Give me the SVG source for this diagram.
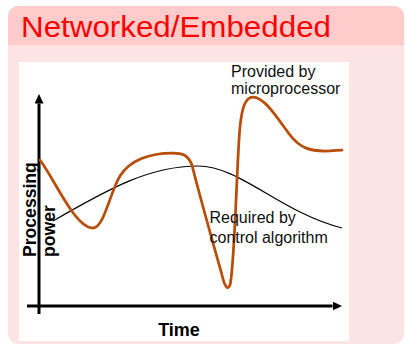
<svg xmlns="http://www.w3.org/2000/svg" width="406" height="346" viewBox="0 0 406 346">
  <style>
    .lbl { font-family: "Liberation Sans", Arial, sans-serif; font-size: 16px; fill: #111111; }
    .bold { font-family: "Liberation Sans", Arial, sans-serif; font-weight: bold; fill: #000000; }
    .axis { stroke: #000000; stroke-width: 3; fill: none; }
  </style>
  <defs>
    <marker id="arrow" markerUnits="userSpaceOnUse" markerWidth="10" markerHeight="9" refX="0" refY="4.5" orient="auto">
      <path d="M0,0 L9.5,4.5 L0,9 z" fill="#000000"/>
    </marker>
  </defs>

  <rect width="406" height="346" fill="#ffffff"/>

  <g id="panel">
    <rect x="8" y="6" width="396" height="338" rx="10" ry="10" fill="#fde4e4"/>
    <path d="M8,45 V16 A10,10 0 0 1 18,6 H394 A10,10 0 0 1 404,16 V45 Z" fill="#ffcbcb"/>
    <rect x="8" y="45" width="396" height="5" fill="#ffe2e2"/>
    <rect x="19" y="62" width="330" height="279" fill="#ffffff"/>
  </g>

  <g id="title">
    <text x="21" y="36.5" font-family="Liberation Sans, Arial, sans-serif" font-size="30" fill="#ff0000" textLength="310" lengthAdjust="spacingAndGlyphs">Networked/Embedded</text>
  </g>

  <g id="connectors">
    <line id="y-axis" class="axis" x1="39" y1="314" x2="39" y2="103.5" marker-end="url(#arrow)"/>
    <line id="x-axis" class="axis" x1="27" y1="306" x2="332.5" y2="306" marker-end="url(#arrow)"/>
    <path id="required-curve" d="M53,221 C110,188 150,166 198,166 C240,166 280,212 342,228" fill="none" stroke="#000000" stroke-width="1.2"/>
    <path id="provided-curve" d="M40,160 C55,180 75,228 93,228 C104,228 110,192 120,176 C130,160 150,153 172,153 C183,153 188,155 192,165 C198,190 215,250 222,275 C225,288 228,290 230,285 C234,270 236,190 239,140 C241,105 246,97 253,97 C264,97 275,115 290,135 C300,148 310,151 325,151 C333,151 338,150 342,150" fill="none" stroke="#b84e08" stroke-width="2.75" stroke-linecap="round" stroke-linejoin="round"/>
  </g>

  <g id="label-provided">
    <text class="lbl" x="231" y="76.7">Provided by</text>
    <text class="lbl" x="231" y="94.3">microprocessor</text>
  </g>

  <g id="label-required">
    <text class="lbl" x="209.5" y="223.3">Required by</text>
    <text class="lbl" x="209.5" y="242.7">control algorithm</text>
  </g>

  <g id="label-yaxis">
    <text class="bold" font-size="17.6" transform="translate(35.5,257) rotate(-90)">Processing</text>
    <text class="bold" font-size="17.6" transform="translate(55,257) rotate(-90)">power</text>
  </g>

  <g id="label-xaxis">
    <text class="bold" font-size="18" x="179" y="336" text-anchor="middle">Time</text>
  </g>
</svg>
